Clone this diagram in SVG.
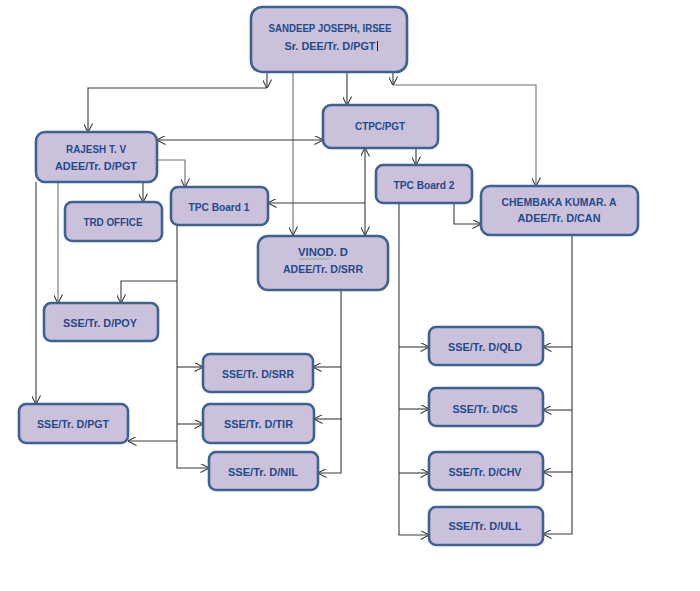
<svg xmlns="http://www.w3.org/2000/svg" width="700" height="591" viewBox="0 0 700 591">
<defs>
<style>
.box{fill:#CCC1DA;stroke:#3C6193;stroke-width:2.6}
.t{font-family:"Liberation Sans",Arial,sans-serif;font-weight:bold;font-size:11px;fill:#1E4A8C;text-anchor:middle}
.c{fill:none;stroke:#3a3a3a;stroke-width:1.1}
.g{fill:none;stroke:#6e6e6e;stroke-width:1.1}
.e{marker-end:url(#ah)}
.s{marker-start:url(#ah)}
</style>
<marker id="ah" viewBox="0 0 10 10" refX="9.5" refY="5" markerWidth="9" markerHeight="9" markerUnits="userSpaceOnUse" orient="auto-start-reverse">
<path d="M0,0 L10,5 L0,10" fill="none" stroke="#3a3a3a" stroke-width="1.2"/>
</marker>
</defs>
<rect width="700" height="591" fill="#ffffff"/>
<g id="connectors">
<path class="c e" d="M267,72 V88"/>
<path class="c e" d="M267,88 H88 V132"/>
<path class="g e" d="M293,72 V235"/>
<path class="c e" d="M347,72 V105"/>
<path class="c e" d="M393,72 V85"/>
<path class="g e" d="M393,85 H536 V186"/>
<path class="c e s" d="M157,140 H323"/>
<path class="g e" d="M157,160 H185 V187"/>
<path class="c e" d="M143,182 V202"/>
<path class="c e" d="M36,182 V404"/>
<path class="g e" d="M58,182 V303"/>
<path class="c e s" d="M365,148 V235"/>
<path class="c e" d="M365,203 H268"/>
<path class="c e" d="M416,148 V165"/>
<path class="c e" d="M454,203 V224 H481"/>
<path class="c e" d="M177,225 V468 H209"/>
<path class="c e" d="M177,281 H121 V303"/>
<path class="c e" d="M177,367 H203"/>
<path class="c e" d="M177,424 H203"/>
<path class="c e" d="M177,441 H128"/>
<path class="c e" d="M341,290 V473 H318"/>
<path class="c e" d="M341,367 H313"/>
<path class="c e" d="M342,419 H314"/>
<path class="c e" d="M399,203 V535 H429"/>
<path class="c e" d="M399,347 H429"/>
<path class="c e" d="M399,409 H429"/>
<path class="c e" d="M399,473 H429"/>
<path class="c e" d="M572,235 V534 H543"/>
<path class="c e" d="M572,347 H543"/>
<path class="c e" d="M572,410 H543"/>
<path class="c e" d="M572,472 H543"/>
</g>
<g id="sandeep">
<rect class="box" x="251" y="7" width="156" height="65" rx="11"/>
<text class="t" x="330" y="32" textLength="123" lengthAdjust="spacingAndGlyphs">SANDEEP JOSEPH, IRSEE</text>
<text class="t" x="330" y="50" textLength="91" lengthAdjust="spacingAndGlyphs">Sr. DEE/Tr. D/PGT</text>
<line x1="377.5" y1="41" x2="377.5" y2="51" stroke="#222" stroke-width="1"/>
</g>
<g id="ctpc">
<rect class="box" x="323" y="105" width="115" height="43" rx="8"/>
<text class="t" x="380" y="130" textLength="50" lengthAdjust="spacingAndGlyphs">CTPC/PGT</text>
</g>
<g id="rajesh">
<rect class="box" x="36" y="132" width="121" height="50" rx="9"/>
<text class="t" x="96" y="153" textLength="60" lengthAdjust="spacingAndGlyphs">RAJESH T. V</text>
<text class="t" x="96" y="170" textLength="82" lengthAdjust="spacingAndGlyphs">ADEE/Tr. D/PGT</text>
</g>
<g id="trd">
<rect class="box" x="65" y="202" width="97" height="39" rx="7"/>
<text class="t" x="113" y="226" textLength="59" lengthAdjust="spacingAndGlyphs">TRD OFFICE</text>
</g>
<g id="tpc1">
<rect class="box" x="171" y="187" width="97" height="38" rx="7"/>
<text class="t" x="219" y="211" textLength="61" lengthAdjust="spacingAndGlyphs">TPC Board 1</text>
</g>
<g id="tpc2">
<rect class="box" x="376" y="165" width="96" height="38" rx="7"/>
<text class="t" x="424" y="189" textLength="61" lengthAdjust="spacingAndGlyphs">TPC Board 2</text>
</g>
<g id="chembaka">
<rect class="box" x="481" y="186" width="157" height="49" rx="9"/>
<text class="t" x="559" y="206" textLength="115" lengthAdjust="spacingAndGlyphs">CHEMBAKA  KUMAR. A</text>
<text class="t" x="559" y="222" textLength="83" lengthAdjust="spacingAndGlyphs">ADEE/Tr. D/CAN</text>
</g>
<g id="vinod">
<rect class="box" x="258" y="236" width="130" height="54" rx="10"/>
<text class="t" x="323" y="256" textLength="50" lengthAdjust="spacingAndGlyphs">VINOD. D</text>
<path d="M299,259 q1,-1.5 2,0 t2,0 t2,0 t2,0 t2,0 t2,0 t2,0 t2,0 t2,0 t2,0 t2,0 t2,0 t2,0 t2,0 t2,0" fill="none" stroke="#5fae4a" stroke-width="0.8"/>
<text class="t" x="323" y="273" textLength="80" lengthAdjust="spacingAndGlyphs">ADEE/Tr. D/SRR</text>
</g>
<g id="sse-poy">
<rect class="box" x="44" y="303" width="114" height="38" rx="7"/>
<text class="t" x="100" y="326.5" textLength="74" lengthAdjust="spacingAndGlyphs">SSE/Tr. D/POY</text>
</g>
<g id="sse-pgt">
<rect class="box" x="19" y="404" width="109" height="39" rx="7"/>
<text class="t" x="73" y="427.5" textLength="72" lengthAdjust="spacingAndGlyphs">SSE/Tr. D/PGT</text>
</g>
<g id="sse-srr">
<rect class="box" x="203" y="354" width="110" height="38" rx="7"/>
<text class="t" x="258" y="377.5" textLength="72" lengthAdjust="spacingAndGlyphs">SSE/Tr. D/SRR</text>
</g>
<g id="sse-tir">
<rect class="box" x="203" y="404" width="111" height="39" rx="7"/>
<text class="t" x="258.5" y="427.5" textLength="69" lengthAdjust="spacingAndGlyphs">SSE/Tr. D/TIR</text>
</g>
<g id="sse-nil">
<rect class="box" x="209" y="452" width="109" height="38" rx="7"/>
<text class="t" x="263" y="475.5" textLength="70" lengthAdjust="spacingAndGlyphs">SSE/Tr. D/NIL</text>
</g>
<g id="sse-qld">
<rect class="box" x="429" y="327" width="114" height="38" rx="7"/>
<text class="t" x="485" y="350.5" textLength="74" lengthAdjust="spacingAndGlyphs">SSE/Tr. D/QLD</text>
</g>
<g id="sse-cs">
<rect class="box" x="429" y="388" width="114" height="38" rx="7"/>
<text class="t" x="485" y="412.5" textLength="65" lengthAdjust="spacingAndGlyphs">SSE/Tr. D/CS</text>
</g>
<g id="sse-chv">
<rect class="box" x="429" y="452" width="114" height="38" rx="7"/>
<text class="t" x="485" y="475.5" textLength="73" lengthAdjust="spacingAndGlyphs">SSE/Tr. D/CHV</text>
</g>
<g id="sse-ull">
<rect class="box" x="429" y="507" width="114" height="38" rx="7"/>
<text class="t" x="485" y="529.5" textLength="73" lengthAdjust="spacingAndGlyphs">SSE/Tr. D/ULL</text>
</g>
</svg>
